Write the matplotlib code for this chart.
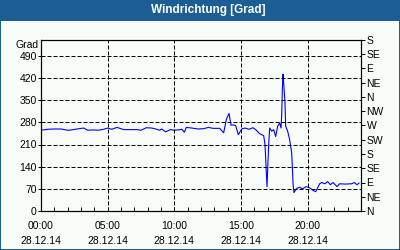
import matplotlib
matplotlib.use('Agg')
import matplotlib.pyplot as plt
from matplotlib.patches import Rectangle

# config
titleText = 'Windrichtung [Grad]'
unitLabel = 'Grad'
dateLabel = '28.12.14'
barColor = '#1c5e94'
panelColor = '#f8fcf8'
lineColor = '#0000ff'

# time of day in hours, wind direction in degrees
hours = [0.0, 0.5, 1.0, 1.5, 2.0, 2.3, 2.7, 3.2, 3.5, 3.9,
         4.3, 4.7, 5.0, 5.3, 5.7, 6.2, 6.7, 7.2, 7.5, 7.9,
         8.3, 8.6, 8.9, 9.05, 9.35, 9.7, 10.0, 10.3, 10.55, 10.75,
         10.9, 11.3, 11.8, 12.2, 12.55, 12.9, 13.4, 13.7, 13.9, 14.1,
         14.25, 14.4, 14.6, 14.8, 15.05, 15.3, 15.6, 15.9, 16.1, 16.4,
         16.7, 16.8, 16.9, 16.95, 17.0, 17.07, 17.15, 17.3, 17.45, 17.6,
         17.75, 17.9, 18.0, 18.05, 18.1, 18.15, 18.2, 18.3, 18.35, 18.5,
         18.65, 18.8, 18.85, 18.9, 18.97, 19.1, 19.2, 19.4, 19.6, 19.9,
         20.2, 20.4, 20.6, 20.9, 21.05, 21.3, 21.5, 21.7, 21.9, 22.2,
         22.4, 22.8, 23.3, 23.5, 23.7, 23.85]
direction = [255, 258, 259, 259, 255, 256, 259, 262, 255, 256,
             255, 258, 262, 258, 264, 257, 257, 257, 255, 263,
             262, 259, 255, 259, 250, 257, 255, 256, 258, 249,
             264, 262, 259, 260, 264, 261, 261, 247, 289, 308,
             271, 272, 270, 241, 259, 262, 258, 263, 257, 244,
             238, 210, 120, 77, 130, 204, 262, 252, 257, 235,
             268, 278, 262, 300, 384, 432, 405, 342, 268, 252,
             225, 184, 141, 89, 58, 67, 72, 75, 70, 77,
             72, 65, 61, 86, 90, 86, 93, 83, 90, 77,
             86, 85, 86, 90, 83, 88]

xTicks = [0, 5, 10, 15, 20]
xTickLabels = ['00:00', '05:00', '10:00', '15:00', '20:00']
yTicks = [0, 70, 140, 210, 280, 350, 420, 490]
compassTicks = [0, 45, 90, 135, 180, 225, 270, 315, 360, 405, 450, 495, 540]
compassLabels = ['N', 'NE', 'E', 'SE', 'S', 'SW', 'W', 'NW', 'N', 'NE', 'E', 'SE', 'S']

plt.rcParams['font.family'] = ['Liberation Sans', 'DejaVu Sans']
fontSize = 7.5

fig = plt.figure(figsize=(4, 2.5), dpi=100)
fig.patch.set_facecolor(barColor)
# white panel under the title bar
panel = Rectangle((1 / 400, 1 / 250), 398 / 400, 228 / 250,
                  transform=fig.transFigure, facecolor=panelColor,
                  edgecolor='none', zorder=-10)
fig.add_artist(panel)
fig.text(0.52, 1 - 10.5 / 250, titleText, color='white', fontsize=8.5,
         fontweight='bold', ha='center', va='center')

ax = fig.add_axes([41 / 400, 39 / 250, 320 / 400, 171 / 250])
ax.set_facecolor(panelColor)
ax.plot(hours, direction, color=lineColor, linewidth=0.8)

ax.set_xlim(0, 24)
ax.set_ylim(0, 540)
ax.set_xticks(xTicks)
ax.set_xticklabels([t + '\n' + dateLabel for t in xTickLabels],
                   fontsize=fontSize, linespacing=1.65)
ax.set_xticks(range(0, 25), minor=True)
ax.set_yticks(yTicks)
ax.set_yticklabels([str(v) for v in yTicks], fontsize=fontSize)

ax.tick_params(axis='x', which='major', direction='in', length=3, width=0.7, pad=7)
ax.tick_params(axis='x', which='minor', direction='in', length=3, width=0.7)
ax.tick_params(axis='y', direction='out', length=2, width=0.7, pad=1)

for v in xTicks[1:]:
    ax.axvline(v, color='black', linewidth=0.72, dashes=(4, 2))
for v in yTicks[1:]:
    ax.axhline(v, color='black', linewidth=0.72, dashes=(4, 2))

for spine in ax.spines.values():
    spine.set_linewidth(0.8)

ax.text(-0.008, 525, unitLabel, transform=ax.get_yaxis_transform(),
        fontsize=fontSize, ha='right', va='center')

axRight = ax.twinx()
axRight.set_ylim(0, 540)
axRight.set_yticks(compassTicks)
axRight.set_yticklabels(compassLabels, fontsize=fontSize)
axRight.tick_params(axis='y', direction='out', length=3, width=0.7, pad=1)
for spine in axRight.spines.values():
    spine.set_linewidth(0.8)

fig.savefig('out.png', dpi=100, facecolor=fig.get_facecolor())
